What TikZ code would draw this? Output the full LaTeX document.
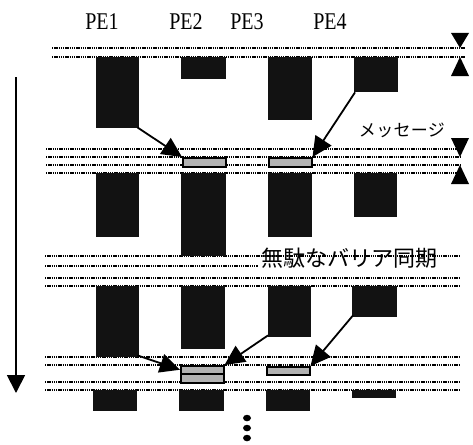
\documentclass[tikz,border=0pt]{standalone}
\usepackage{fontspec}
\setmainfont{Liberation Serif}
\newfontfamily\jfont{Noto Sans CJK JP}
\usetikzlibrary{arrows.meta,shapes.geometric}
\tikzset{
  dotline/.style={line width=1.6pt,dash pattern=on 1.4pt off 0.8pt,black},
  blk/.style={fill=black!93,draw=none,inner sep=0pt,anchor=north west},
  msg/.style={fill=black!30,draw=black,line width=1.5pt,inner sep=0pt,anchor=north west},
  sendarrow/.style={line width=1.8pt,-{Triangle[length=20pt,width=19pt]}},
  pelabel/.style={font=\fontsize{20}{20}\selectfont,inner sep=0pt},
  marker/.style={fill=black},
  dotmark/.style={fill=black,ellipse,inner sep=0pt,minimum width=8pt,minimum height=6.5pt},
}
\newcommand{\boxat}[6]{\node[#1,minimum width=#4-#3,minimum height=#6-#5] (#2) at (#3,#5) {};}
\begin{document}
\begin{tikzpicture}[x=1pt,y=-1pt]
\useasboundingbox (0,0) rectangle (473,444);
% labels
\node[pelabel] (l1) at (102,22) {\scalebox{1}[1.2]{PE1}};
\node[pelabel] (l2) at (186,22) {\scalebox{1}[1.2]{PE2}};
\node[pelabel] (l3) at (247,22) {\scalebox{1}[1.2]{PE3}};
\node[pelabel] (l4) at (330,22) {\scalebox{1}[1.2]{PE4}};
% dotted lines
\foreach \y in {48,57} \draw[dotline] (52,\y) -- (465,\y);
\foreach \y in {149,157,165,173} \draw[dotline] (46,\y) -- (460,\y);
\foreach \y in {256,278,286} \draw[dotline] (45,\y) -- (460,\y);
\draw[dotline] (45,266) -- (258,266);
\foreach \y in {357,365,382,390} \draw[dotline] (45,\y) -- (460,\y);
% row 1
\boxat{blk}{a1}{96}{139}{57}{128}
\boxat{blk}{b1}{181}{226}{57}{79}
\boxat{blk}{c1}{268}{312}{57}{120}
\boxat{blk}{d1}{354}{398}{57}{92}
% row 2
\boxat{blk}{a2}{96}{139}{173}{237}
\boxat{blk}{b2}{181}{226}{173}{256}
\boxat{blk}{c2}{268}{312}{173}{237}
\boxat{blk}{d2}{354}{397}{173}{217}
% row 3
\boxat{blk}{a3}{96}{139}{286}{357}
\boxat{blk}{b3}{181}{225}{286}{349}
\boxat{blk}{c3}{268}{311}{286}{337}
\boxat{blk}{d3}{352}{397}{286}{317}
% row 4
\boxat{blk}{a4}{93}{137}{390}{411}
\boxat{blk}{b4}{179}{224}{390}{411}
\boxat{blk}{c4}{266}{310}{390}{411}
\boxat{blk}{d4}{352}{396}{390}{398}
% message boxes
\boxat{msg}{m1}{182}{225}{157}{166}
\boxat{msg}{m2}{268}{311}{157}{166}
\boxat{msg}{m3}{180}{223}{365}{373}
\boxat{msg}{m4}{180}{223}{373}{382}
\boxat{msg}{m5}{266}{309}{366}{374}
% arrows
\draw[sendarrow] (a1.south east) ++(-2,-1) coordinate (s1) -- (m1.north west);
\draw[sendarrow] (d1.south west) ++(1,0) coordinate (s2) -- (m2.north east);
\draw[sendarrow] (a3.south east) ++(-2,-2) coordinate (s3) -- (m3.west);
\draw[sendarrow] (c3.south west) ++(0,-2) coordinate (s4) -- (m3.north east);
\draw[sendarrow] (d3.south west) ++(1,-2) coordinate (s5) -- (m5.north east);
% texts
\node[font=\jfont\fontsize{17}{17}\selectfont\addfontfeature{LetterSpace=2},inner sep=0pt] (t1) at (402,130) {メッセージ};
\node[font=\jfont\fontsize{22}{22}\selectfont,inner sep=0pt] (t2) at (349,258) {無駄なバリア同期};
% markers
\fill[marker] (460,48) -- (451,33) -- (469,33) -- cycle;
\fill[marker] (460,57) -- (451,76) -- (469,76) -- cycle;
\fill[marker] (460,157) -- (451,138) -- (469,138) -- cycle;
\fill[marker] (460,165) -- (451,184) -- (469,184) -- cycle;
% time arrow
\coordinate (ta) at (16,77);
\coordinate (tb) at (16,393);
\draw[line width=1.8pt,-{Triangle[length=18pt,width=18pt]}] (ta) -- (tb);
% dots
\node[dotmark] (p1) at (247,418) {};
\node[dotmark] (p2) at (247,428) {};
\node[dotmark] (p3) at (247,438) {};
\end{tikzpicture}
\end{document}
